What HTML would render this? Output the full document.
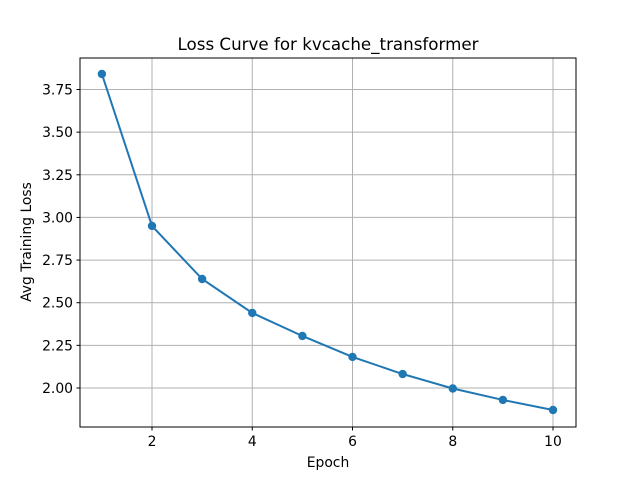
<!DOCTYPE html>
<html><head><meta charset="utf-8"><style>
body{margin:0;background:#fff;font-family:"Liberation Sans","DejaVu Sans",sans-serif;}
svg text{font-family:"DejaVu Sans","Liberation Sans",sans-serif;}
</style></head><body>
<svg id="chart" width="640" height="480" xmlns="http://www.w3.org/2000/svg">
<rect width="640" height="480" fill="#fff"/>
<g id="grid"></g>
<g id="axes"></g>
<g id="series"></g>
<text x="328" y="50" font-size="16.7" text-anchor="middle">Loss Curve for kvcache_transformer</text>
<text x="328" y="467" font-size="13.9" text-anchor="middle">Epoch</text>
<text transform="translate(31,242) rotate(-90)" font-size="13.9" text-anchor="middle">Avg Training Loss</text>
</svg>
<script>
const epochs=[1,2,3,4,5,6,7,8,9,10];
const losses=[3.841,2.950,2.639,2.440,2.305,2.182,2.082,1.997,1.930,1.871];
const xTicks=[2,4,6,8,10];
const yTicks=[2.00,2.25,2.50,2.75,3.00,3.25,3.50,3.75];
const L=80,R=576,T=58,B=427;
function sx(v){return 152+(v-2)*50.125;}
function sy(v){return 388-(v-2)*170.57;}
const NS="http://www.w3.org/2000/svg";
function mk(tag,attrs,parent){const e=document.createElementNS(NS,tag);for(const k in attrs)e.setAttribute(k,attrs[k]);parent.appendChild(e);return e;}
const grid=document.getElementById('grid'),axes=document.getElementById('axes'),ser=document.getElementById('series');
xTicks.forEach(t=>{const x=sx(t);
 const g=mk('line',{x1:x,x2:x,y1:T,y2:B,stroke:'#b0b0b0','stroke-width':1},grid);
 
 
 mk('line',{x1:x,x2:x,y1:B,y2:B+3.5,stroke:'#000','stroke-width':1},axes);
 const tx=mk('text',{x:x,y:B+19,'font-size':13.9,'text-anchor':'middle'},axes);tx.textContent=t;
 
 
});
yTicks.forEach(t=>{const y=sy(t);
 const g=mk('line',{x1:L,x2:R,y1:y,y2:y,stroke:'#b0b0b0','stroke-width':1},grid);
 
 
 mk('line',{x1:L-3.5,x2:L,y1:y,y2:y,stroke:'#000','stroke-width':1},axes);
 const tx=mk('text',{x:L-7,y:y+5,'font-size':13.9,'text-anchor':'end'},axes);tx.textContent=t.toFixed(2);
 
 
});
const fr=mk('rect',{x:L,y:T,width:R-L,height:B-T,fill:'none',stroke:'#000','stroke-width':1},axes);


const pl=mk('polyline',{points:epochs.map((e,i)=>sx(e)+','+sy(losses[i])).join(' '),fill:'none',stroke:'#1f77b4','stroke-width':2},ser);


epochs.forEach((e,i)=>{const c=mk('circle',{cx:sx(e),cy:sy(losses[i]),r:4.2,fill:'#1f77b4'},ser);
 
 
});
</script>
</body></html>
